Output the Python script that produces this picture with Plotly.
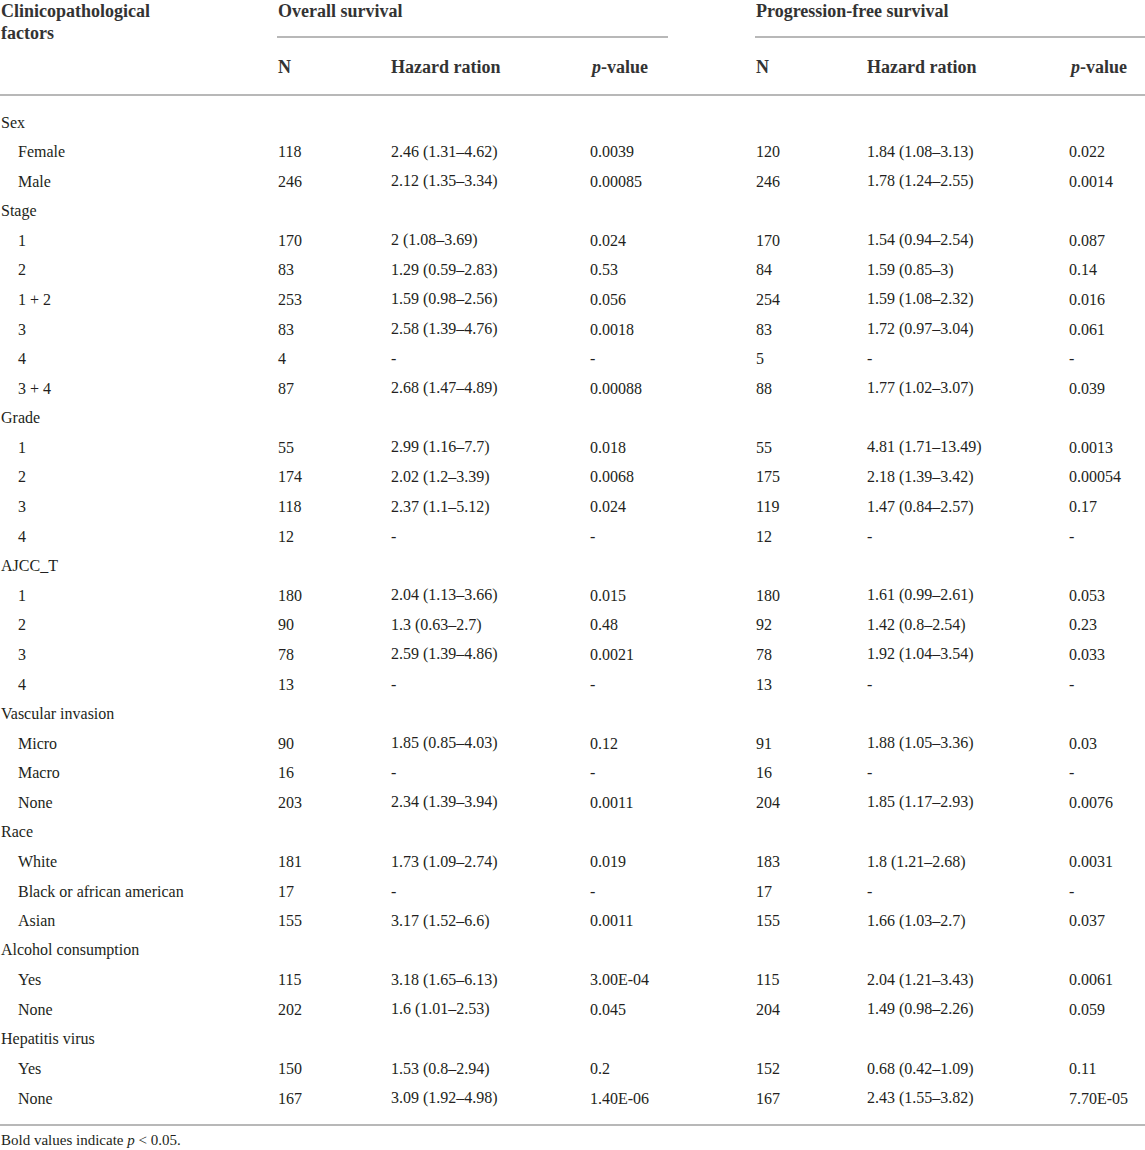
import plotly.graph_objects as go

# Table contents, row by row (blank string = group heading with no values)
labels = ["Sex", "Female", "Male",
          "Stage", "1", "2", "1 + 2", "3", "4", "3 + 4",
          "Grade", "1", "2", "3", "4",
          "AJCC_T", "1", "2", "3", "4",
          "Vascular invasion", "Micro", "Macro", "None",
          "Race", "White", "Black or african american", "Asian",
          "Alcohol consumption", "Yes", "None",
          "Hepatitis virus", "Yes", "None"]
is_group = [True, False, False,
            True, False, False, False, False, False, False,
            True, False, False, False, False,
            True, False, False, False, False,
            True, False, False, False,
            True, False, False, False,
            True, False, False,
            True, False, False]

os_n = ["", "118", "246",
        "", "170", "83", "253", "83", "4", "87",
        "", "55", "174", "118", "12",
        "", "180", "90", "78", "13",
        "", "90", "16", "203",
        "", "181", "17", "155",
        "", "115", "202",
        "", "150", "167"]
os_hr = ["", "2.46 (1.31–4.62)", "2.12 (1.35–3.34)",
         "", "2 (1.08–3.69)", "1.29 (0.59–2.83)", "1.59 (0.98–2.56)", "2.58 (1.39–4.76)", "-", "2.68 (1.47–4.89)",
         "", "2.99 (1.16–7.7)", "2.02 (1.2–3.39)", "2.37 (1.1–5.12)", "-",
         "", "2.04 (1.13–3.66)", "1.3 (0.63–2.7)", "2.59 (1.39–4.86)", "-",
         "", "1.85 (0.85–4.03)", "-", "2.34 (1.39–3.94)",
         "", "1.73 (1.09–2.74)", "-", "3.17 (1.52–6.6)",
         "", "3.18 (1.65–6.13)", "1.6 (1.01–2.53)",
         "", "1.53 (0.8–2.94)", "3.09 (1.92–4.98)"]
os_p = ["", "0.0039", "0.00085",
        "", "0.024", "0.53", "0.056", "0.0018", "-", "0.00088",
        "", "0.018", "0.0068", "0.024", "-",
        "", "0.015", "0.48", "0.0021", "-",
        "", "0.12", "-", "0.0011",
        "", "0.019", "-", "0.0011",
        "", "3.00E-04", "0.045",
        "", "0.2", "1.40E-06"]

pfs_n = ["", "120", "246",
         "", "170", "84", "254", "83", "5", "88",
         "", "55", "175", "119", "12",
         "", "180", "92", "78", "13",
         "", "91", "16", "204",
         "", "183", "17", "155",
         "", "115", "204",
         "", "152", "167"]
pfs_hr = ["", "1.84 (1.08–3.13)", "1.78 (1.24–2.55)",
          "", "1.54 (0.94–2.54)", "1.59 (0.85–3)", "1.59 (1.08–2.32)", "1.72 (0.97–3.04)", "-", "1.77 (1.02–3.07)",
          "", "4.81 (1.71–13.49)", "2.18 (1.39–3.42)", "1.47 (0.84–2.57)", "-",
          "", "1.61 (0.99–2.61)", "1.42 (0.8–2.54)", "1.92 (1.04–3.54)", "-",
          "", "1.88 (1.05–3.36)", "-", "1.85 (1.17–2.93)",
          "", "1.8 (1.21–2.68)", "-", "1.66 (1.03–2.7)",
          "", "2.04 (1.21–3.43)", "1.49 (0.98–2.26)",
          "", "0.68 (0.42–1.09)", "2.43 (1.55–3.82)"]
pfs_p = ["", "0.022", "0.0014",
         "", "0.087", "0.14", "0.016", "0.061", "-", "0.039",
         "", "0.0013", "0.00054", "0.17", "-",
         "", "0.053", "0.23", "0.033", "-",
         "", "0.03", "-", "0.0076",
         "", "0.0031", "-", "0.037",
         "", "0.0061", "0.059",
         "", "0.11", "7.70E-05"]

col_headers = ["N", "Hazard ration", "<i>p</i>-value", "N", "Hazard ration", "<i>p</i>-value"]
footnote = "Bold values indicate <i>p</i> < 0.05."

# layout geometry (pixels)
W, H = 1145, 1150
col_x = [277, 390, 589, 755, 866, 1068]
row_y0, row_dy = 122, 29.58
FONT = "Liberation Serif"
TXT = "#231f20"
HEAD = "#333333"
RULE = "#a0a0a0"

fig = go.Figure()
ann = []


def add_text(x, y, s, size=16, bold=False, color=TXT):
    if bold:
        s = "<b>" + s + "</b>"
    ann.append(dict(x=x, y=y, xref="x", yref="y", text=s, showarrow=False,
                    xanchor="left", yanchor="middle", borderpad=0,
                    font=dict(family=FONT, size=size, color=color)))


# headers
add_text(0, 11, "Clinicopathological", size=18, bold=True, color=HEAD)
add_text(0, 33, "factors", size=18, bold=True, color=HEAD)
add_text(col_x[0], 11, "Overall survival", size=18, bold=True, color=HEAD)
add_text(col_x[3], 11, "Progression-free survival", size=18, bold=True, color=HEAD)
for x, h in zip(col_x, col_headers):
    add_text(x, 67, h, size=18, bold=True, color=HEAD)

# body rows
columns = [os_n, os_hr, os_p, pfs_n, pfs_hr, pfs_p]
for i, lab in enumerate(labels):
    y = row_y0 + i * row_dy
    add_text(0 if is_group[i] else 17, y, lab)
    for x, col in zip(col_x, columns):
        if col[i]:
            add_text(x, y, col[i])

add_text(0, 1140, footnote, size=15)

# rules
shapes = []
for x0, x1, y in [(col_x[0], 668, 37), (col_x[3], W, 37), (0, W, 95), (0, W, 1125)]:
    shapes.append(dict(type="line", xref="x", yref="y", x0=x0, x1=x1, y0=y, y1=y,
                       line=dict(color=RULE, width=1.5)))

fig.update_layout(
    width=W, height=H,
    margin=dict(l=0, r=0, t=0, b=0),
    paper_bgcolor="white", plot_bgcolor="white",
    annotations=ann, shapes=shapes,
    xaxis=dict(range=[0, W], visible=False, fixedrange=True),
    yaxis=dict(range=[H, 0], visible=False, fixedrange=True),
    showlegend=False,
)

# drop the browser's default body margin so the table sits flush at the top-left
fig.write_html("out.html", post_script="document.body.style.margin='0';",
               config=dict(displayModeBar=False))
